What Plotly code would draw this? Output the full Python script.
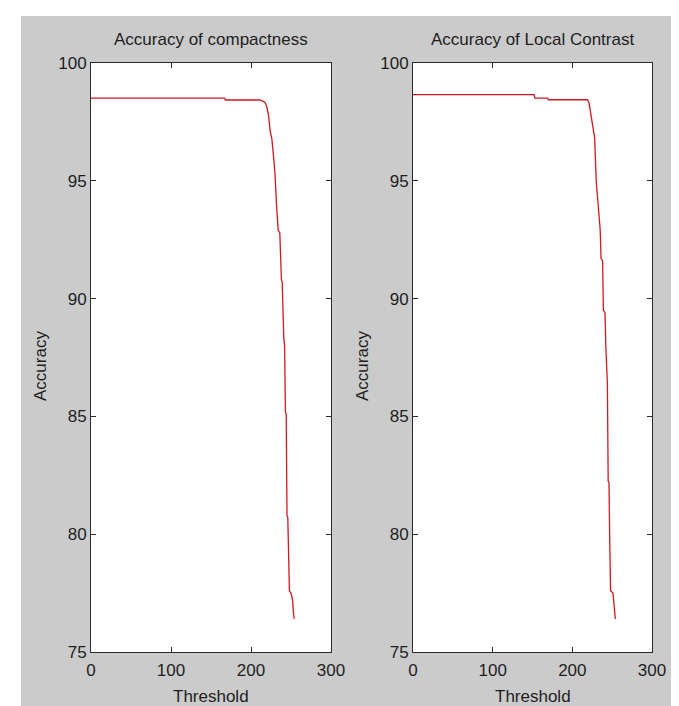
import plotly.graph_objects as go

# ---- data ----
thr_compact = [0, 167, 168, 211, 216, 218, 220, 222, 224, 226, 228, 230, 232, 234, 236, 237,
               238, 239, 240, 241, 242, 243, 244, 245, 246, 247, 248, 250, 252, 253, 254]
acc_compact = [98.51, 98.51, 98.43, 98.43, 98.36, 98.30, 98.10, 97.75, 97.10, 96.80, 96.10,
               95.30, 93.90, 92.90, 92.80, 91.50, 90.80, 90.70, 88.50, 88.30, 88.00, 85.20,
               85.10, 80.80, 80.70, 79.60, 77.60, 77.50, 77.20, 76.70, 76.40]

thr_contrast = [0, 152, 153, 169, 170, 219, 221, 224, 228, 230, 233, 234, 235, 236, 238, 239,
                241, 242, 243, 244, 245, 246, 247, 248, 251, 252, 253, 254]
acc_contrast = [98.66, 98.66, 98.51, 98.51, 98.44, 98.44, 98.30, 97.67, 96.82, 94.98, 93.50,
                93.00, 92.90, 91.70, 91.60, 89.50, 89.40, 88.00, 86.50, 86.40, 82.25, 82.20,
                79.60, 77.60, 77.50, 77.20, 76.80, 76.40]

titles = ["Accuracy of compactness", "Accuracy of Local Contrast"]
x_label = "Threshold"
y_label = "Accuracy"
x_ticks = [0, 100, 200, 300]
y_ticks = [75, 80, 85, 90, 95, 100]

# ---- layout geometry ----
W, H = 679, 706
FONT = "Liberation Sans Narrow, Arial Narrow, Liberation Sans, Arial, sans-serif"
LINE_RED = "#d01820"
AX = "#2a2a2a"
TXT = "#1e1e1e"

def px_x(p):
    return p / W

def px_y(p):
    return 1 - p / H

panels_x = [(83, 323), (405, 644)]
panel_y = (55, 644)

fig = go.Figure()
fig.add_trace(go.Scatter(x=thr_compact, y=acc_compact, mode="lines",
                         line=dict(color=LINE_RED, width=1.3), xaxis="x", yaxis="y"))
fig.add_trace(go.Scatter(x=thr_contrast, y=acc_contrast, mode="lines",
                         line=dict(color=LINE_RED, width=1.3), xaxis="x2", yaxis="y2"))

def xaxis(dom, anchor):
    return dict(domain=[px_x(dom[0]), px_x(dom[1])], range=[0, 300], tickvals=x_ticks,
                ticks="inside", ticklen=5, tickcolor=AX, showline=True, linecolor=AX,
                linewidth=1, mirror="ticks", showgrid=False, zeroline=False, anchor=anchor,
                tickfont=dict(family=FONT, size=17, color=TXT), automargin=False,
                ticklabelstandoff=3)

def yaxis(anchor):
    return dict(domain=[px_y(panel_y[1]), px_y(panel_y[0])], range=[75, 100], tickvals=y_ticks,
                ticks="inside", ticklen=5, tickcolor=AX, showline=True, linecolor=AX,
                linewidth=1, mirror="ticks", showgrid=False, zeroline=False, anchor=anchor,
                tickfont=dict(family=FONT, size=17, color=TXT), automargin=False)

annotations = []
for (x0, x1), t in zip(panels_x, titles):
    cx = px_x((x0 + x1) / 2)
    annotations.append(dict(x=cx, y=px_y(31), xref="paper", yref="paper", text=t,
                            showarrow=False, xanchor="center", yanchor="middle",
                            font=dict(family=FONT, size=17, color=TXT)))
    annotations.append(dict(x=cx, y=px_y(688), xref="paper", yref="paper", text=x_label,
                            showarrow=False, xanchor="center", yanchor="middle",
                            font=dict(family=FONT, size=17, color=TXT)))
for ylx in (33, 355):
    annotations.append(dict(x=px_x(ylx), y=px_y(358), xref="paper", yref="paper", text=y_label,
                            showarrow=False, xanchor="center", yanchor="middle", textangle=-90,
                            font=dict(family=FONT, size=17, color=TXT)))

shapes = [
    dict(type="rect", xref="paper", yref="paper", x0=0, x1=px_x(13), y0=0, y1=1,
         fillcolor="white", line=dict(width=0), layer="below"),
    dict(type="rect", xref="paper", yref="paper", x0=0, x1=1, y0=px_y(8), y1=1,
         fillcolor="white", line=dict(width=0), layer="below"),
]

fig.update_layout(
    width=W, height=H, margin=dict(l=0, r=0, t=0, b=0, pad=0),
    paper_bgcolor="#cbcbcb", plot_bgcolor="white", showlegend=False,
    xaxis=xaxis(panels_x[0], "y"), yaxis=yaxis("x"),
    xaxis2=xaxis(panels_x[1], "y2"), yaxis2=yaxis("x2"),
    annotations=annotations, shapes=shapes,
)

fig.write_html("out.html")
